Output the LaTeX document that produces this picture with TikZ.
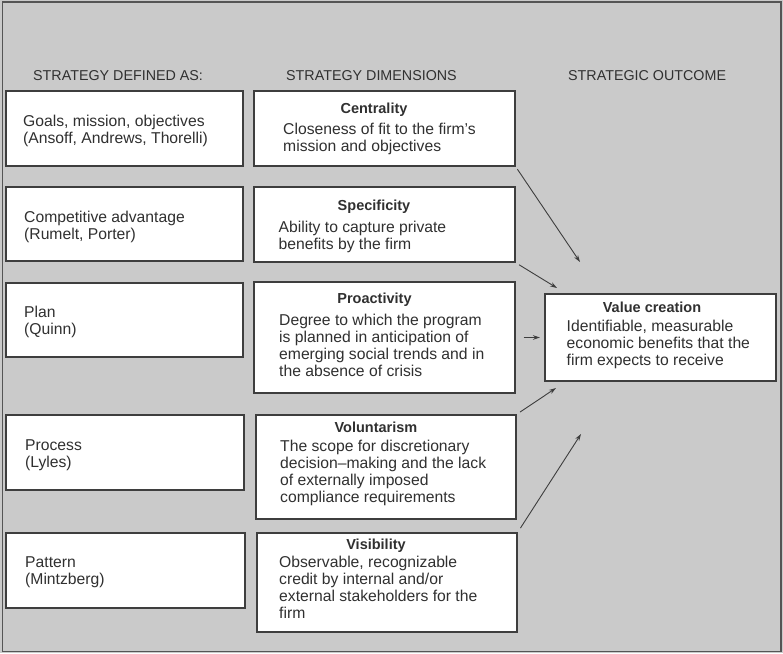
\documentclass[tikz,border=0pt]{standalone}
\usepackage{fontspec}
\setmainfont{Liberation Sans}
\usetikzlibrary{arrows.meta}
\definecolor{bgc}{RGB}{202,202,202}
\definecolor{edge}{RGB}{62,62,62}
\definecolor{txt}{RGB}{48,48,48}
\definecolor{frm}{RGB}{85,85,85}
\tikzset{
  box/.style={draw=edge, fill=white, line width=1.4pt, inner sep=0pt, rectangle},
  body/.style={anchor=north west, align=left, inner sep=0pt, text=txt,
    font=\fontsize{15.7}{17}\selectfont, yshift=11.2pt},
  ttl/.style={anchor=base, inner sep=0pt, text=txt,
    font=\fontsize{14.5}{17}\selectfont\bfseries},
  hdr/.style={anchor=base west, inner sep=0pt, text=txt,
    font=\fontsize{14.3}{17}\selectfont},
  conn/.style={draw=edge, line width=0.9pt, -{Stealth[length=7pt,width=4.5pt]}}
}
\begin{document}
\begin{tikzpicture}[x=1pt,y=-1pt]
\useasboundingbox (0,0) rectangle (783,653);
\fill[bgc] (0,0) rectangle (783,653);
\draw[frm, line width=1.5pt] (2.5,2) rectangle (781,651.5);

% headers
\node[hdr] (h1) at (33,80.5) {STRATEGY DEFINED AS:};
\node[hdr] (h2) at (286,80.5) {STRATEGY DIMENSIONS};
\node[hdr] (h3) at (568,80.5) {STRATEGIC OUTCOME};

% left column
\node[box, minimum width=237pt, minimum height=75pt] (l1) at (124.5,128.5) {};
\node[box, minimum width=237pt, minimum height=74pt] (l2) at (124.5,224) {};
\node[box, minimum width=237pt, minimum height=74pt] (l3) at (124.5,320) {};
\node[box, minimum width=238pt, minimum height=75pt] (l4) at (125,452.5) {};
\node[box, minimum width=239pt, minimum height=75pt] (l5) at (125.5,570.5) {};

\node[body] (l1t) at (23,126) {Goals, mission, objectives\\(Ansoff, Andrews, Thorelli)};
\node[body] (l2t) at (24,222) {Competitive advantage\\(Rumelt, Porter)};
\node[body] (l3t) at (24,317.5) {Plan\\(Quinn)};
\node[body] (l4t) at (25,450.5) {Process\\(Lyles)};
\node[body] (l5t) at (25,568) {Pattern\\(Mintzberg)};

% middle column
\node[box, minimum width=261pt, minimum height=75pt] (m1) at (384.5,128.5) {};
\node[box, minimum width=261pt, minimum height=75pt] (m2) at (384.5,224.5) {};
\node[box, minimum width=261pt, minimum height=111pt] (m3) at (384.5,337.5) {};
\node[box, minimum width=260pt, minimum height=104pt] (m4) at (386,467) {};
\node[box, minimum width=260pt, minimum height=99pt] (m5) at (387,582.5) {};

\node[ttl] (m1h) at (374,113) {Centrality};
\node[body] (m1t) at (283,134.5) {Closeness of fit to the firm{\char"0027}s\\mission and objectives};
\node[ttl] (m2h) at (374,210) {Specificity};
\node[body] (m2t) at (278.5,232.5) {Ability to capture private\\benefits by the firm};
\node[ttl] (m3h) at (374.5,303) {Proactivity};
\node[body] (m3t) at (279,325) {Degree to which the program\\is planned in anticipation of\\emerging social trends and in\\the absence of crisis};
\node[ttl] (m4h) at (376,432) {Voluntarism};
\node[body] (m4t) at (280,451.5) {The scope for discretionary\\decision--making and the lack\\of externally imposed\\compliance requirements};
\node[ttl] (m5h) at (376,549) {Visibility};
\node[body] (m5t) at (279,567.5) {Observable, recognizable\\credit by internal and/or\\external stakeholders for the\\firm};

% outcome
\node[box, minimum width=231pt, minimum height=87pt] (v) at (660.5,337.5) {};
\node[ttl] (vh) at (652,312) {Value creation};
\node[body] (vt) at (566.5,331) {Identifiable, measurable\\economic benefits that the\\firm expects to receive};

% arrow ends
\coordinate (e1) at (580,262);
\coordinate (e2) at (557,288);
\coordinate (e3) at (540,337.5);
\coordinate (e4) at (556,388);
\coordinate (e5) at (581,434);

\draw[conn, shorten <=3pt] (m1.south east) -- (e1);
\draw[conn, shorten <=4pt] (m2.south east) -- (e2);
\draw[conn, shorten <=8pt] (m3.east) -- (e3);
\draw[conn, shorten <=4pt] (m4.north east) -- (e4);
\draw[conn, shorten <=5pt] (m5.north east) -- (e5);
\end{tikzpicture}
\end{document}
